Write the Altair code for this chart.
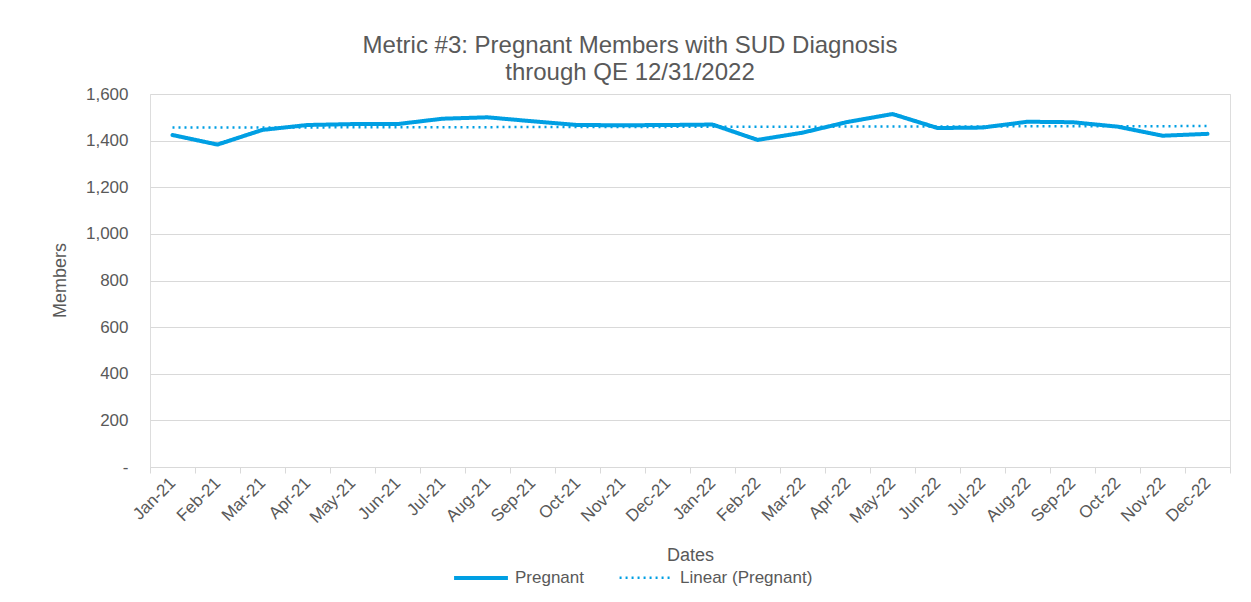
import altair as alt
import pandas as pd
import numpy as np

months = ["Jan-21", "Feb-21", "Mar-21", "Apr-21", "May-21", "Jun-21",
          "Jul-21", "Aug-21", "Sep-21", "Oct-21", "Nov-21", "Dec-21",
          "Jan-22", "Feb-22", "Mar-22", "Apr-22", "May-22", "Jun-22",
          "Jul-22", "Aug-22", "Sep-22", "Oct-22", "Nov-22", "Dec-22"]
pregnant = [1424, 1383, 1446, 1467, 1471, 1471, 1494, 1500, 1483, 1467, 1466, 1467,
            1469, 1403, 1434, 1480, 1514, 1454, 1456, 1481, 1479, 1460, 1421, 1429]
series_names = ["Pregnant", "Linear (Pregnant)"]
y_ticks = [0, 200, 400, 600, 800, 1000, 1200, 1400, 1600]

# Excel-style linear trendline fitted to the series
idx = np.arange(1, len(months) + 1)
slope, intercept = np.polyfit(idx, pregnant, 1)
trend = intercept + slope * idx

df = pd.concat([
    pd.DataFrame({"Dates": months, "Members": pregnant, "Series": series_names[0]}),
    pd.DataFrame({"Dates": months, "Members": trend, "Series": series_names[1]}),
], ignore_index=True)

FONT = "Liberation Sans"
TXT = "#595959"
GRID = "#d9d9d9"
BLUE = "#009FE3"

x_enc = alt.X("Dates:N", sort=months, title="Dates",
              scale=alt.Scale(paddingInner=0, paddingOuter=0),
              axis=alt.Axis(labelAngle=-45, labelFontSize=17, labelColor=TXT, labelFont=FONT,
                            labelPadding=7, labelBaseline="middle", labelAlign="right",
                            tickBand="extent", tickSize=6, tickColor=GRID,
                            domainColor=GRID, grid=False,
                            titleFontSize=18, titleFont=FONT, titleColor=TXT,
                            titleFontWeight="normal", titleY=88, titleBaseline="middle"))
y_enc = alt.Y("Members:Q", title="Members",
              scale=alt.Scale(domain=[0, 1600], nice=False),
              axis=alt.Axis(values=y_ticks, labelFontSize=17, labelColor=TXT, labelFont=FONT,
                            labelPadding=22, ticks=False, domain=False,
                            gridColor=GRID, gridWidth=1,
                            labelExpr="datum.value == 0 ? '-\u00a0\u00a0' : format(datum.value, ',')",
                            titleFontSize=18, titleFont=FONT, titleColor=TXT,
                            titleFontWeight="normal", titleX=-90, titleY=186,
                            titleAngle=-90, titleBaseline="middle", titleAlign="center"))

legend = alt.Legend(orient="none", legendX=302, legendY=455, direction="horizontal",
                    title=None, symbolType="stroke", symbolSize=2900,
                    labelFontSize=17, labelFont=FONT, labelColor=TXT,
                    labelOffset=5, columnPadding=30)

color_enc = alt.Color("Series:N", scale=alt.Scale(domain=series_names, range=[BLUE, BLUE]),
                      sort=series_names, legend=legend)
dash_enc = alt.StrokeDash("Series:N", scale=alt.Scale(domain=series_names, range=[[1, 0], [2, 4]]),
                          sort=series_names, legend=legend)
width_enc = alt.StrokeWidth("Series:N", scale=alt.Scale(domain=series_names, range=[4, 2.5]),
                            sort=series_names, legend=legend)

base = alt.Chart(df).encode(x=x_enc, y=y_enc, color=color_enc,
                            strokeDash=dash_enc, strokeWidth=width_enc)

solid = base.transform_filter(alt.datum.Series == series_names[0]).mark_line(
    strokeJoin="round", strokeCap="round")
dotted = base.transform_filter(alt.datum.Series == series_names[1]).mark_line(
    strokeCap="butt")

chart = alt.layer(solid, dotted).properties(
    width=1080, height=373,
    autosize=alt.AutoSizeParams(type="none"),
    padding={"left": 142, "top": 86, "right": 13, "bottom": 120},
    title=alt.TitleParams(
        text=["Metric #3: Pregnant Members with SUD Diagnosis", "through QE 12/31/2022"],
        fontSize=24, font=FONT, fontWeight="normal", color=TXT,
        anchor="middle", dx=-60, offset=0, lineHeight=27),
).configure_view(stroke=None).configure(background="white")

chart.save("out.html", embed_options={"renderer": "svg", "actions": False})
